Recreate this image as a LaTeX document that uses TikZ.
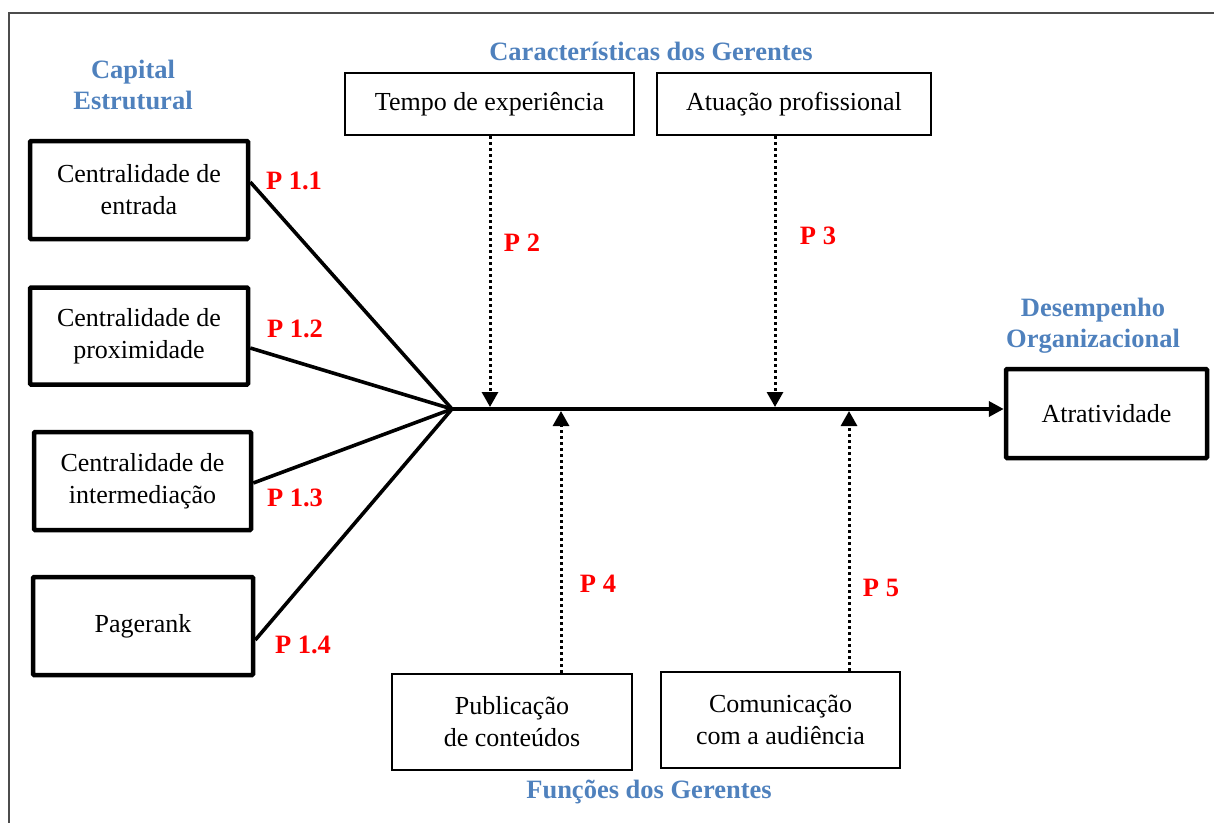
\documentclass[tikz,border=0pt]{standalone}
\usepackage{fontspec}
\setmainfont{LiberationSerif}[Extension=.ttf, UprightFont=*-Regular, BoldFont=*-Bold, ItalicFont=*-Italic, BoldItalicFont=*-BoldItalic]
\usetikzlibrary{arrows.meta,calc}
\definecolor{titleblue}{RGB}{79,129,189}
\tikzset{
  thickbox/.style={draw, line width=4.5pt, rounded corners=1pt, align=center, font=\fontsize{26}{32}\selectfont, inner sep=0pt},
  thinbox/.style={draw, line width=2.2pt, align=center, font=\fontsize{26}{32}\selectfont, inner sep=0pt},
  ttl/.style={text=titleblue, font=\bfseries\fontsize{26.5}{31}\selectfont, align=center},
  plab/.style={text=red, font=\bfseries\fontsize{26.5}{31}\selectfont},
  conn/.style={line width=3.6pt},
  dotarrow/.style={line width=3pt, dash pattern=on 3pt off 3pt, -{Triangle[length=15pt,width=16pt]}},
}
\begin{document}
\begin{tikzpicture}[x=1pt,y=-1pt]
\useasboundingbox (0,0) rectangle (1214,822);
% outer frame (partly clipped in reference)
\draw[line width=1.5pt, black!70] (9,830) -- (9,13) -- (1220,13);

% titles
\node[ttl] (tcap) at (133,85) {Capital\\Estrutural};
\node[ttl] (tcar) at (651,51) {Características dos Gerentes};
\node[ttl] (tdes) at (1093,326) {Desempenho\\Organizacional};
\node[ttl] (tfun) at (649,792) {Funções dos Gerentes};

% left boxes
\node[thickbox, minimum width=218pt, minimum height=98pt] (b1) at (139,190) {Centralidade de\\entrada};
\node[thickbox, minimum width=218pt, minimum height=97pt] (b2) at (139,336) {Centralidade de\\proximidade};
\node[thickbox, minimum width=217pt, minimum height=98pt] (b3) at (142.5,481) {Centralidade de\\intermediação};
\node[thickbox, minimum width=220pt, minimum height=98pt] (b4) at (143,626) {Pagerank};

% target
\node[thickbox, minimum width=201pt, minimum height=89pt] (at) at (1106.5,413.5) {Atratividade};

% top boxes
\node[thinbox, minimum width=289pt, minimum height=62pt] (te) at (489.5,104) {Tempo de experiência};
\node[thinbox, minimum width=274pt, minimum height=62pt] (ap) at (794,104) {Atuação profissional};

% bottom boxes
\node[thinbox, minimum width=240pt, minimum height=96pt] (pc) at (512,722) {Publicação\\de conteúdos};
\node[thinbox, minimum width=239pt, minimum height=96pt] (ca) at (780.5,720) {Comunicação\\com a audiência};

% junction and arrow targets on main line
\coordinate (j) at (452,409);
\coordinate (d2) at (490,407);
\coordinate (d3) at (775,407);
\coordinate (u4) at (561,411);
\coordinate (u5) at (849,411);

% connectors from left boxes
\draw[conn] ([yshift=8pt]b1.east) -- (j);
\draw[conn] ([yshift=-12pt]b2.east) -- (j);
\draw[conn] ([yshift=-2pt]b3.east) -- (j);
\draw[conn] ([yshift=-14pt]b4.east) -- (j);

% main arrow
\draw[conn, -{Triangle[length=15pt,width=15pt]}] (j) -- (j -| at.west);

% dotted arrows
\draw[dotarrow] (te.south -| d2) -- (d2);
\draw[dotarrow] (ap.south -| d3) -- (d3);
\draw[dotarrow] (pc.north -| u4) -- (u4);
\draw[dotarrow] (ca.north -| u5) -- (u5);

% proposition labels
\node[plab] (p11) at (294,181) {P 1.1};
\node[plab] (p12) at (295,329) {P 1.2};
\node[plab] (p13) at (295,498) {P 1.3};
\node[plab] (p14) at (303,645) {P 1.4};
\node[plab] (p2) at (522,243) {P 2};
\node[plab] (p3) at (818,236) {P 3};
\node[plab] (p4) at (598,584) {P 4};
\node[plab] (p5) at (881,588) {P 5};
\end{tikzpicture}
\end{document}
